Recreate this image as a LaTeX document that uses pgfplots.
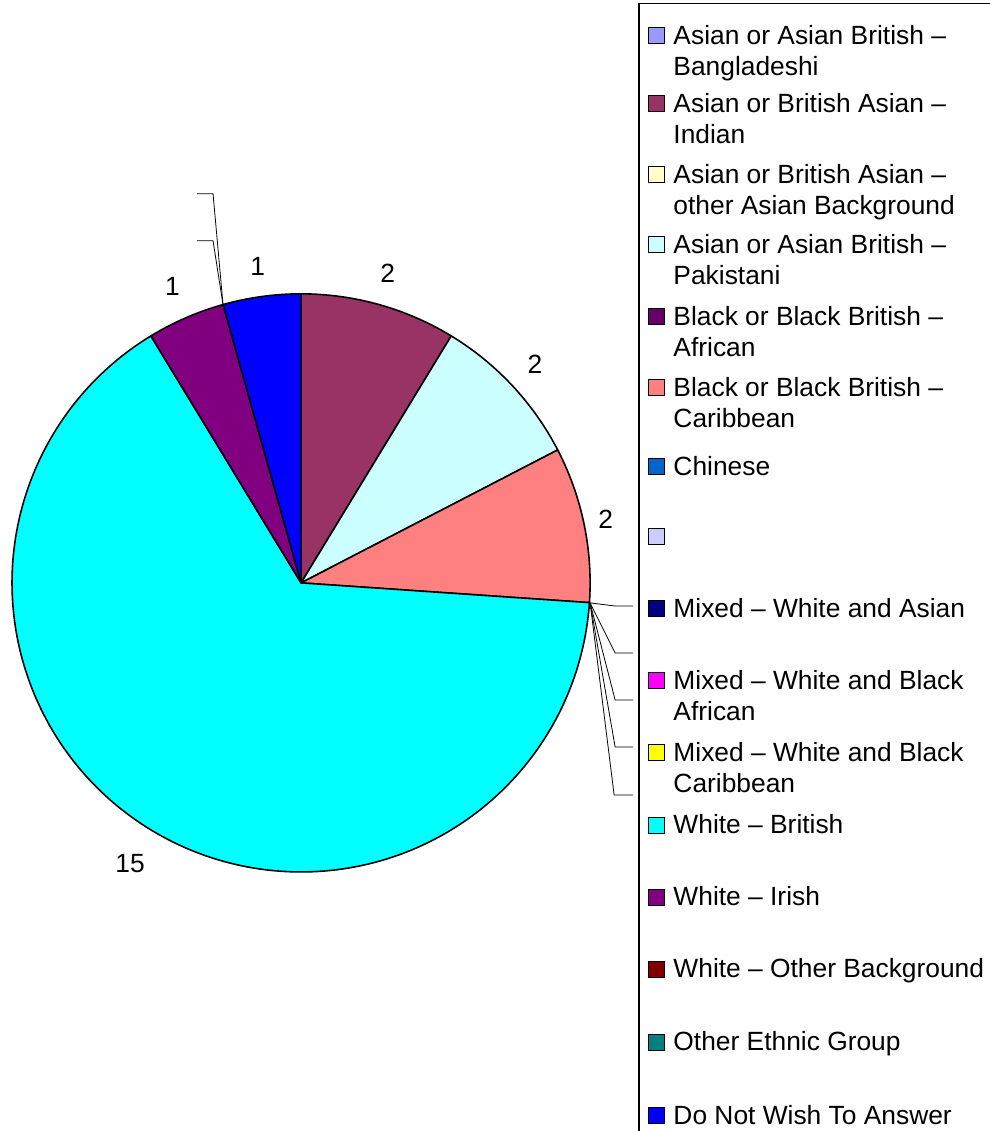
\documentclass[border=0pt]{standalone}
\usepackage{pgfplots}
\pgfplotsset{compat=1.18}
\usepackage{pgfplotstable}
\usepackage{fontspec}
\setmainfont{Liberation Sans}

\definecolor{c0}{HTML}{9999FF}
\definecolor{c1}{HTML}{993366}
\definecolor{c2}{HTML}{FFFFCC}
\definecolor{c3}{HTML}{CCFFFF}
\definecolor{c4}{HTML}{660066}
\definecolor{c5}{HTML}{FF8080}
\definecolor{c6}{HTML}{0066CC}
\definecolor{c7}{HTML}{CCCCFF}
\definecolor{c8}{HTML}{000080}
\definecolor{c9}{HTML}{FF00FF}
\definecolor{c10}{HTML}{FFFF00}
\definecolor{c11}{HTML}{00FFFF}
\definecolor{c12}{HTML}{800080}
\definecolor{c13}{HTML}{800000}
\definecolor{c14}{HTML}{008080}
\definecolor{c15}{HTML}{0000FF}

% value = count; lr = label distance from centre (px)
\pgfplotstableread[col sep=comma]{
id,value,lr
Bangladeshi,0,320
Indian,2,321
OtherAsian,0,320
Pakistani,2,320
African,0,320
Caribbean,2,311
Chinese,0,320
Blank,0,320
MixedWA,0,320
MixedWBA,0,320
MixedWBC,0,320
WhiteBritish,15,329
WhiteIrish,1,323
WhiteOther,0,320
OtherEthnic,0,320
DoNotWish,1,319
}\piedata

\newcommand\legfont{\fontsize{15}{18}\selectfont}
\newcommand\legentry[4]{%
  \filldraw[fill=#1,draw=black,line width=0.5pt] (648,{#2-8}) rectangle (664,{#2+8});
  \node[anchor=base west,inner sep=0pt,font=\legfont] at (673,{#2+9}) {#3};
  \node[anchor=base west,inner sep=0pt,font=\legfont] at (673,{#2+40}) {#4};
}

% ---- build the slice commands from the table ----
\newcommand\piecmds{}
\newcommand\pieTotal{0}
\newcommand\pieCum{0}
\pgfplotstablegetrowsof{\piedata}
\pgfmathtruncatemacro\pieLast{\pgfplotsretval-1}
\pgfplotsforeachungrouped \pieI in {0,...,\pieLast}{%
  \pgfplotstablegetelem{\pieI}{value}\of\piedata
  \pgfmathsetmacro\pieTotal{\pieTotal+\pgfplotsretval}%
}
\pgfplotsforeachungrouped \pieI in {0,...,\pieLast}{%
  \pgfplotstablegetelem{\pieI}{value}\of\piedata
  \edef\pieV{\pgfplotsretval}%
  \pgfplotstablegetelem{\pieI}{lr}\of\piedata
  \edef\pieLR{\pgfplotsretval}%
  \pgfmathsetmacro\pieA{360*\pieCum/\pieTotal}%
  \pgfmathsetmacro\pieB{360*(\pieCum+\pieV)/\pieTotal}%
  \ifdim\pieV pt>0pt
    \pgfmathtruncatemacro\pieN{4+12*\pieV}%
    \pgfmathsetmacro\pieStep{(\pieB-\pieA)/\pieN}%
    \gdef\piePts{}%
    \foreach \pieK in {0,...,\pieN}{%
      \pgfmathsetmacro\pieTh{\pieA+\pieStep*\pieK}%
      \pgfmathsetmacro\pieX{301+289*sin(\pieTh)}%
      \pgfmathsetmacro\pieY{583-289*cos(\pieTh)}%
      \xdef\piePts{\piePts (\pieX,\pieY)}%
    }%
    \pgfmathsetmacro\pieM{(\pieA+\pieB)/2}%
    \pgfmathsetmacro\pieLX{301+\pieLR*sin(\pieM)}%
    \pgfmathsetmacro\pieLY{583-\pieLR*cos(\pieM)}%
    \xdef\piecmds{\unexpanded\expandafter{\piecmds}%
      \noexpand\addplot[fill=c\pieI,draw=black,line width=0.9pt,line join=round] coordinates {(301,583) \piePts} -- cycle;
      \noexpand\node[font=\noexpand\legfont,inner sep=0pt] at (\pieLX,\pieLY) {\pieV};
    }%
  \fi
  \pgfmathsetmacro\pieCum{\pieCum+\pieV}%
}

\begin{document}
\begin{tikzpicture}
\begin{axis}[
  at={(0,0)}, anchor=south west,
  x=0.02cm, y=0.02cm,
  xmin=0, xmax=990, ymin=0, ymax=1131,
  y dir=reverse,
  hide axis, clip=false,
]
\piecmds
% leader lines of the empty slices
\draw[line width=0.45pt] (590,603) -- (614,606) -- (633,606);
\draw[line width=0.45pt] (590,603) -- (615,653) -- (633,653);
\draw[line width=0.45pt] (590,603) -- (615,700) -- (633,700);
\draw[line width=0.45pt] (590,603) -- (615,747) -- (633,747);
\draw[line width=0.45pt] (590,603) -- (614,795) -- (633,795);
\draw[line width=0.45pt] (223,305) -- (213,194) -- (197,194);
\draw[line width=0.45pt] (223,305) -- (213,241) -- (197,241);
% legend
\draw[line width=0.8pt] (639,1200) -- (639,4) -- (1100,4);
\legentry{c0}{36}{Asian or Asian British –}{Bangladeshi}
\legentry{c1}{104}{Asian or British Asian –}{Indian}
\legentry{c2}{175}{Asian or British Asian –}{other Asian Background}
\legentry{c3}{245}{Asian or Asian British –}{Pakistani}
\legentry{c4}{317}{Black or Black British –}{African}
\legentry{c5}{388}{Black or Black British –}{Caribbean}
\legentry{c6}{467}{Chinese}{}
\legentry{c7}{537}{}{}
\legentry{c8}{609}{Mixed – White and Asian}{}
\legentry{c9}{681}{Mixed – White and Black}{African}
\legentry{c10}{753}{Mixed – White and Black}{Caribbean}
\legentry{c11}{825}{White – British}{}
\legentry{c12}{897}{White – Irish}{}
\legentry{c13}{969}{White – Other Background}{}
\legentry{c14}{1042}{Other Ethnic Group}{}
\legentry{c15}{1115}{Do Not Wish To Answer}{}
\end{axis}
\pgfresetboundingbox
\path[use as bounding box] (0,0) rectangle (19.8cm,22.62cm);
\end{tikzpicture}
\end{document}
